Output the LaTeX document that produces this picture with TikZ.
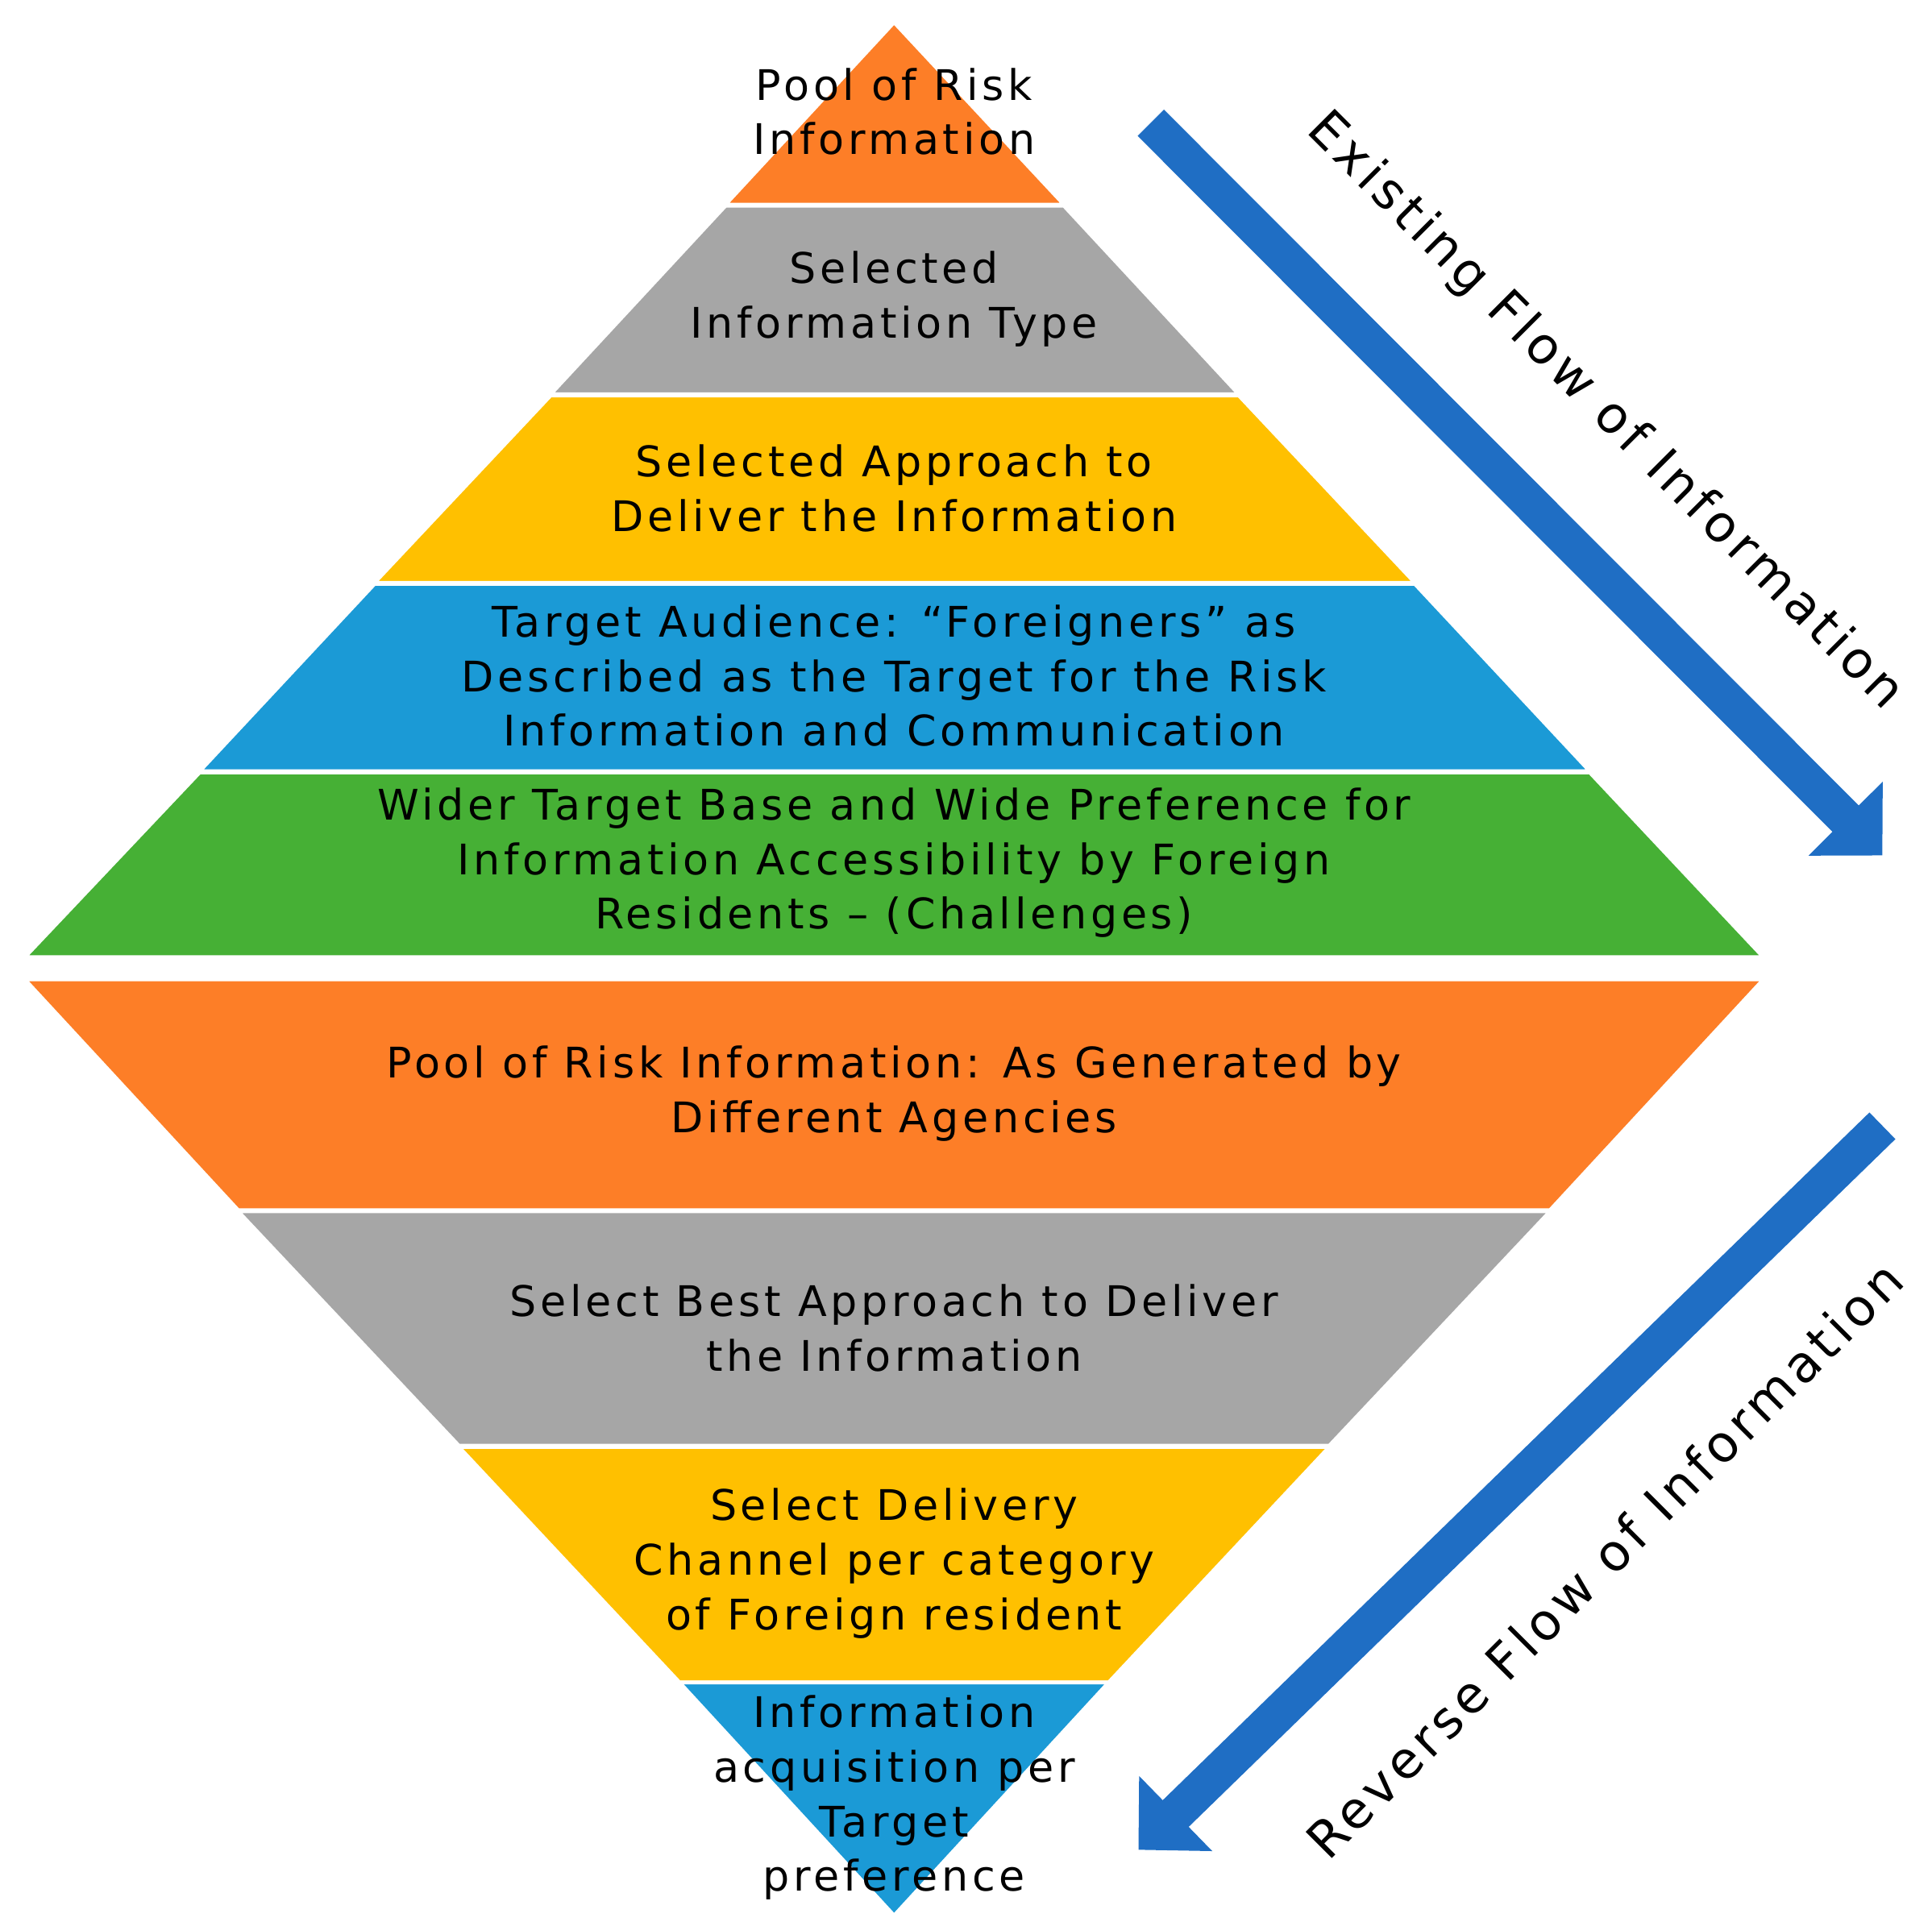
\documentclass[tikz,border=0pt]{standalone}
\usepackage{fontspec}
\setmainfont{DejaVu Sans}[LetterSpace=9]
\usetikzlibrary{arrows.meta}
\definecolor{cor}{RGB}{253,126,39}
\definecolor{cgr}{RGB}{166,166,166}
\definecolor{cye}{RGB}{255,192,0}
\definecolor{cbl}{RGB}{27,154,214}
\definecolor{cgn}{RGB}{70,176,53}
\definecolor{carr}{RGB}{31,110,196}
\begin{document}
\begin{tikzpicture}[x=1pt,y=-1pt,
 lay/.style={draw=white,line width=3pt,line join=miter},
 txt/.style={align=center,font=\fontsize{34}{44}\selectfont,text=black},
 flow/.style={carr,line width=30pt,-{Triangle[length=42pt,width=82pt]},shorten >=0pt},
 ftxt/.style={font=\fontsize{41}{48}\selectfont,text=black}]
\useasboundingbox (0,0) rectangle (1558,1550);
% top pyramid
\fill[cor,lay] (721,18) -- (858,165) -- (585,165) -- cycle;
\fill[cgr,lay] (585,166) -- (858,166) -- (999,318) -- (444,318) -- cycle;
\fill[cye,lay] (444,319) -- (999,319) -- (1141,470) -- (302,470) -- cycle;
\fill[cbl,lay] (302,471) -- (1141,471) -- (1282,622) -- (161,622) -- cycle;
\fill[cgn,lay] (161,623) -- (1282,623) -- (1422,772) -- (20,772) -- cycle;
% bottom pyramid
\fill[cor,lay] (20,790) -- (1422,790) -- (1250,976) -- (192,976) -- cycle;
\fill[cgr,lay] (192,977) -- (1250,977) -- (1072,1166) -- (370,1166) -- cycle;
\fill[cye,lay] (370,1167) -- (1072,1167) -- (894,1357) -- (548,1357) -- cycle;
\fill[cbl,lay] (548,1357) -- (894,1357) -- (721,1545) -- cycle;
% texts
\node[txt] (t1) at (721,90) {Pool of Risk\\Information};
\node[txt] (t2) at (721,241) {Selected\\Information Type};
\node[txt] (t3) at (721,394) {Selected Approach to\\Deliver the Information};
\node[txt] (t4) at (721,545) {Target Audience: “Foreigners” as\\Described as the Target for the Risk\\Information and Communication};
\node[txt] (t5) at (721,696) {Wider Target Base and Wide Preference for\\Information Accessibility by Foreign\\Residents – (Challenges)};
\node[txt] (b1) at (721,882) {Pool of Risk Information: As Generated by\\Different Agencies};
\node[txt] (b2) at (721,1071) {Select Best Approach to Deliver\\the Information};
\node[txt] (b3) at (721,1261) {Select Delivery\\Channel per category\\of Foreign resident};
\node[txt] (b4) at (721,1450) {Information\\acquisition per\\Target\\preference};
% arrows
\coordinate (a1s) at (928,99);
\coordinate (a1e) at (1518,690);
\coordinate (a2s) at (1518,908);
\coordinate (a2e) at (918,1492);
\draw[flow] (a1s) -- (a1e);
\draw[flow] (a2s) -- (a2e);
\node[ftxt,rotate=-45] (e) at (1294,332) {Existing Flow of Information};
\node[ftxt,rotate=45] (r) at (1294,1258) {Reverse Flow of Information};
\end{tikzpicture}
\end{document}
